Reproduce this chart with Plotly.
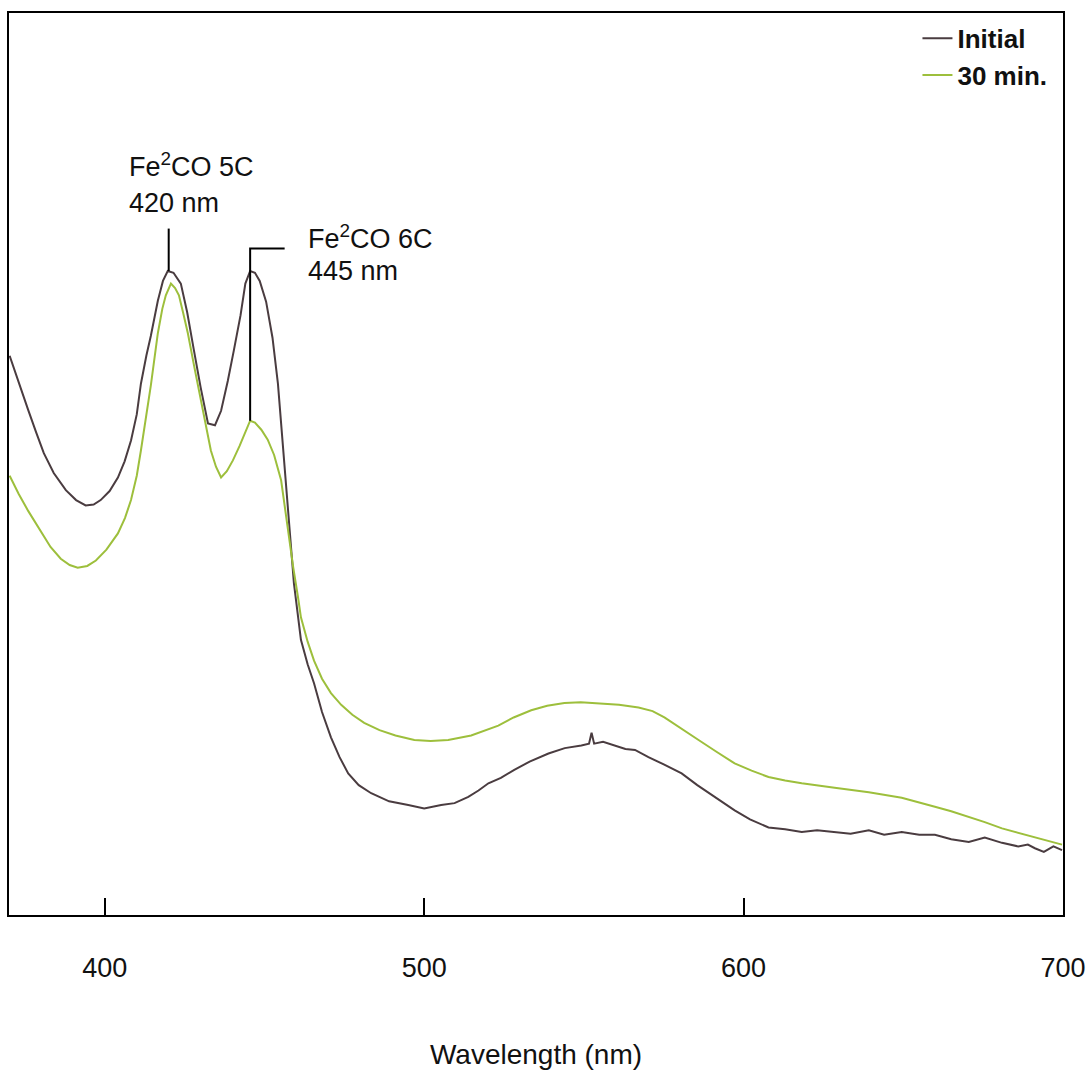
import plotly.graph_objects as go

# Absorbance spectra (arbitrary absorbance units) vs wavelength in nm
initial_nm = [370.2, 373.0, 376.0, 378.5, 380.9, 384.0, 387.8, 391.0, 394.0, 396.5,
              398.7, 401.5, 404.1, 406.2, 408.2, 410.0, 411.3, 413.0, 414.4, 416.6,
              418.2, 419.7, 421.5, 423.8, 425.8, 427.9, 430.0, 432.3, 434.5, 436.4,
              438.5, 440.4, 442.5, 444.0, 445.5, 447.0, 448.5, 450.5, 452.5, 454.2,
              455.8, 457.4, 459.2, 461.4, 463.5, 465.5, 468.0, 470.8, 473.5, 476.2,
              479.5, 483.4, 489.0, 495.0, 500.0, 505.3, 509.5, 513.8, 517.0, 520.1,
              524.0, 528.2, 533.0, 538.9, 544.0, 549.2, 551.6, 552.4, 553.2, 556.0,
              559.6, 563.0, 566.0, 570.2, 575.0, 580.6, 585.5, 590.9, 597.2, 602.0,
              607.8, 613.0, 618.2, 623.0, 628.5, 633.5, 639.2, 644.0, 649.5, 655.0,
              659.9, 665.0, 670.5, 675.5, 680.9, 686.0, 689.0, 691.2, 694.0, 697.0,
              699.7]
initial_abs = [0.620, 0.590, 0.560, 0.535, 0.512, 0.490, 0.471, 0.460, 0.454, 0.455,
               0.460, 0.470, 0.485, 0.503, 0.526, 0.555, 0.589, 0.620, 0.642, 0.681,
               0.703, 0.714, 0.712, 0.700, 0.668, 0.626, 0.585, 0.545, 0.543, 0.559,
               0.592, 0.626, 0.665, 0.700, 0.714, 0.712, 0.703, 0.680, 0.640, 0.589,
               0.515, 0.441, 0.368, 0.305, 0.278, 0.257, 0.225, 0.197, 0.175, 0.157,
               0.144, 0.135, 0.126, 0.122, 0.118, 0.122, 0.124, 0.131, 0.138, 0.146,
               0.152, 0.161, 0.170, 0.179, 0.185, 0.188, 0.190, 0.202, 0.190, 0.192,
               0.188, 0.184, 0.183, 0.175, 0.167, 0.157, 0.144, 0.131, 0.116, 0.106,
               0.097, 0.095, 0.092, 0.094, 0.092, 0.090, 0.094, 0.089, 0.092, 0.089,
               0.089, 0.084, 0.081, 0.086, 0.080, 0.076, 0.078, 0.074, 0.070, 0.076,
               0.072]

min30_nm = [370.2, 373.0, 376.0, 379.9, 383.0, 386.2, 389.0, 391.5, 394.5, 397.2,
            400.5, 404.1, 406.3, 408.2, 410.0, 411.3, 413.0, 414.4, 416.6, 418.0,
            419.1, 420.7, 422.0, 423.2, 424.5, 426.0, 428.0, 430.1, 431.7, 433.2,
            434.8, 436.4, 438.2, 440.1, 442.2, 444.2, 445.5, 447.0, 449.0, 451.0,
            453.0, 455.2, 457.4, 459.0, 460.5, 461.4, 463.5, 465.5, 468.0, 470.8,
            474.0, 477.5, 481.2, 486.0, 491.0, 496.9, 502.0, 507.5, 514.7, 523.2,
            528.0, 533.5, 538.5, 543.9, 549.0, 554.5, 561.0, 567.1, 571.5, 575.2,
            580.5, 585.9, 591.5, 597.2, 602.5, 607.8, 613.0, 618.2, 628.5, 639.2,
            649.5, 655.0, 659.9, 665.0, 670.5, 675.5, 680.9, 686.0, 691.2, 695.5,
            699.7]
min30_abs = [0.487, 0.467, 0.448, 0.426, 0.408, 0.395, 0.388, 0.385, 0.387, 0.393,
             0.405, 0.423, 0.440, 0.460, 0.487, 0.515, 0.552, 0.587, 0.645, 0.672,
             0.687, 0.700, 0.695, 0.687, 0.668, 0.645, 0.608, 0.570, 0.540, 0.515,
             0.497, 0.485, 0.492, 0.504, 0.520, 0.537, 0.548, 0.546, 0.538, 0.527,
             0.510, 0.482, 0.423, 0.385, 0.352, 0.330, 0.303, 0.282, 0.262, 0.246,
             0.233, 0.222, 0.213, 0.205, 0.199, 0.194, 0.193, 0.194, 0.199, 0.210,
             0.219, 0.227, 0.232, 0.235, 0.236, 0.235, 0.233, 0.230, 0.226, 0.219,
             0.207, 0.194, 0.181, 0.168, 0.160, 0.153, 0.149, 0.146, 0.141, 0.136,
             0.130, 0.125, 0.120, 0.115, 0.109, 0.103, 0.096, 0.091, 0.086, 0.082,
             0.078]

x_ticks = [400, 500, 600, 700]

# Band assignments: (label line 1, label line 2, peak wavelength, peak absorbance)
band_5c = ("Fe<sup>2</sup>CO 5C", "420 nm", 420, 0.714)
band_6c = ("Fe<sup>2</sup>CO 6C", "445 nm", 445.5, 0.548)

DARK = "#4a3c40"
GREEN = "#9dbf3c"
FONT = "Liberation Sans, Arial, sans-serif"

fig = go.Figure()
fig.add_trace(go.Scatter(x=initial_nm, y=initial_abs, mode="lines", name="Initial",
                         line=dict(color=DARK, width=2)))
fig.add_trace(go.Scatter(x=min30_nm, y=min30_abs, mode="lines", name="30 min.",
                         line=dict(color=GREEN, width=2)))

# Callout for the 5-coordinate band: straight tick above the peak
fig.add_shape(type="line", xref="x", yref="y", x0=band_5c[2], x1=band_5c[2],
              y0=band_5c[3], y1=0.761, line=dict(color="black", width=2))
# Callout for the 6-coordinate band: elbow from the label down to the 30 min. peak
fig.add_shape(type="path", xref="x", yref="y",
              path=f"M 456.3,0.739 L {band_6c[2]},0.739 L {band_6c[2]},{band_6c[3]}",
              line=dict(color="black", width=2))

for (l1, l2, _, _), x0, y1, y2 in [(band_5c, 407.0, 0.831, 0.789),
                                   (band_6c, 463.0, 0.752, 0.714)]:
    fig.add_annotation(x=x0, y=y1, xref="x", yref="y", text=l1, showarrow=False,
                       xanchor="left", yanchor="middle",
                       font=dict(family=FONT, size=27, color="#111111"))
    fig.add_annotation(x=x0, y=y2, xref="x", yref="y", text=l2, showarrow=False,
                       xanchor="left", yanchor="middle",
                       font=dict(family=FONT, size=27, color="#111111"))

fig.update_layout(
    width=1089, height=1070,
    margin=dict(l=9, r=26, t=13, b=155),
    paper_bgcolor="white", plot_bgcolor="white",
    showlegend=True,
    legend=dict(x=0.99, y=0.998, xanchor="right", yanchor="top",
                bgcolor="rgba(0,0,0,0)", itemwidth=30, tracegroupgap=0,
                font=dict(family=FONT, size=26, color="#111111", weight="bold")),
    xaxis=dict(range=[370, 700], tickvals=x_ticks, ticktext=[str(v) for v in x_ticks],
               ticks="inside", ticklen=17, tickwidth=2, tickcolor="black",
               showline=True, linecolor="black", linewidth=2, mirror=True,
               showgrid=False, zeroline=False, ticklabelstandoff=28, automargin=False,
               tickfont=dict(family=FONT, size=27, color="#111111"),
               title=dict(text="Wavelength (nm)", standoff=62,
                          font=dict(family=FONT, size=28, color="#111111"))),
    yaxis=dict(range=[0, 1], showticklabels=False, ticks="", automargin=False,
               showline=True, linecolor="black", linewidth=2, mirror=True,
               showgrid=False, zeroline=False),
)

fig.write_html("out.html")
